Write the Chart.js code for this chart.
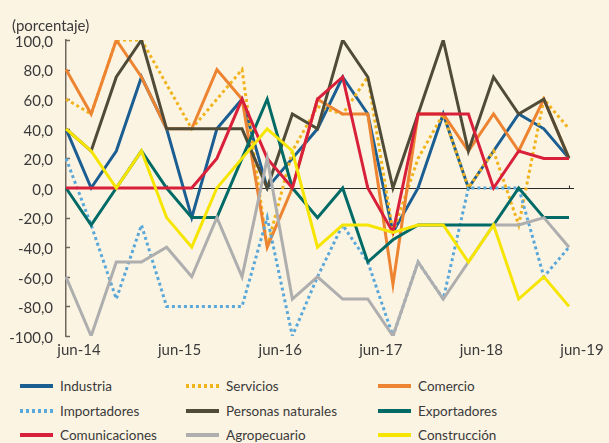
<!DOCTYPE html>
<html>
<head>
<meta charset="utf-8">
<script src="https://cdn.jsdelivr.net/npm/chart.js@4.4.1/dist/chart.umd.min.js"></script>
<style>
  body { margin: 0; background: #FCF4E3; }
  #wrap { position: relative; width: 609px; height: 443px; background: #FCF4E3; font-family: Lato, sans-serif; color: #3a3a3a; }
  #unit { position: absolute; left: 12px; top: 16px; font-size: 15px; line-height: 18px; }
  #chart { position: absolute; left: 0; top: 0; }
  .item { position: absolute; height: 18px; display: flex; align-items: center; font-size: 13.5px; white-space: nowrap; }
  .item span.mark { display: inline-block; width: 33px; height: 3.5px; margin-right: 7px; }
</style>
</head>
<body>
<div id="wrap">
  <canvas id="chart" width="609" height="365"></canvas>
  <div id="unit">(porcentaje)</div>
  <div id="legend"></div>
</div>
<script>
// quarterly, jun-14 .. jun-19
const quarters = ['jun-14', 'sep-14', 'dic-14', 'mar-15', 'jun-15', 'sep-15', 'dic-15', 'mar-16',
                  'jun-16', 'sep-16', 'dic-16', 'mar-17', 'jun-17', 'sep-17', 'dic-17', 'mar-18',
                  'jun-18', 'sep-18', 'dic-18', 'mar-19', 'jun-19'];

const industria      = [40, 0, 25, 75, 40, -20, 40, 60, 0, 20, 40, 75, 50, -30, 0, 50, 0, 25, 50, 40, 20];
const servicios      = [60, 50, 100, 100, 70, 40, 60, 80, -40, 25, 55, 50, 75, -30, 20, 50, 0, 25, -25, 60, 40];
const comercio       = [80, 50, 100, 75, 40, 40, 80, 60, -40, 0, 60, 50, 50, -65, 50, 50, 25, 50, 25, 60, 20];
const importadores   = [20, -25, -75, -25, -80, -80, -80, -80, -20, -100, -60, -25, -50, -100, -50, -75, 0, 0, 0, -60, -40];
const personas       = [40, 25, 75, 100, 40, 40, 40, 40, 0, 50, 40, 100, 75, 0, 50, 100, 25, 75, 50, 60, 20];
const exportadores   = [0, -25, 0, 25, 0, -20, -20, 20, 60, 0, -20, 0, -50, -35, -25, -25, -25, -25, 0, -20, -20];
const comunicaciones = [0, 0, 0, 0, 0, 0, 20, 60, 20, 0, 60, 75, 0, -30, 50, 50, 50, 0, 25, 20, 20];
const agropecuario   = [-60, -100, -50, -50, -40, -60, -20, -60, 20, -75, -60, -75, -75, -100, -50, -75, -50, -25, -25, -20, -40];
const construccion   = [40, 25, 0, 25, -20, -40, 0, 20, 40, 25, -40, -25, -25, -30, -25, -25, -50, -25, -75, -60, -80];

const yTicks = [100, 80, 60, 40, 20, 0, -20, -40, -60, -80, -100];

function line(label, data, color, dotted) {
    return {
        label, data,
        borderColor: color,
        backgroundColor: color,
        borderWidth: 3,
        borderDash: dotted ? [3, 3] : [],
        borderCapStyle: 'butt',
        borderJoinStyle: 'miter',
        pointRadius: 0,
        tension: 0,
        fill: false
    };
}

const datasets = [
    line('Industria', industria, '#1B5E92'),
    line('Servicios', servicios, '#F1B31C', true),
    line('Comercio', comercio, '#EC8431'),
    line('Importadores', importadores, '#5AA8D9', true),
    line('Personas naturales', personas, '#4F4B37'),
    line('Exportadores', exportadores, '#006B66'),
    line('Comunicaciones', comunicaciones, '#D8203B'),
    line('Agropecuario', agropecuario, '#AEAEAE'),
    line('Construcción', construccion, '#F5E500')
];
// last series on top
datasets.forEach((d, i) => d.order = datasets.length - 1 - i);

const axisColor = '#6F665E';

// zero line with small marks, inward ticks on the y axis
const axisMarks = {
    id: 'axisMarks',
    beforeDatasetsDraw(chart) {
        const { ctx, chartArea: a, scales: { x, y } } = chart;
        ctx.save();
        const y0 = Math.round(y.getPixelForValue(0)) + 0.5;
        ctx.strokeStyle = '#2a2a2a';
        ctx.lineWidth = 1;
        ctx.beginPath();
        ctx.moveTo(a.left, y0);
        ctx.lineTo(a.right + 5, y0);
        quarters.forEach((q, i) => {
            if (i % 4 === 0 && i > 0) {
                const px = Math.round(x.getPixelForValue(i)) + 0.5;
                ctx.moveTo(px, y0);
                ctx.lineTo(px, y0 - 3);
            }
        });
        ctx.stroke();

        ctx.strokeStyle = axisColor;
        ctx.lineWidth = 1.5;
        ctx.beginPath();
        yTicks.forEach(v => {
            const py = Math.round(y.getPixelForValue(v)) + 0.5;
            ctx.moveTo(a.left, py);
            ctx.lineTo(a.left + 4, py);
        });
        ctx.stroke();
        ctx.restore();
    }
};

const tickFont = { family: 'Lato', size: 15 };

new Chart(document.getElementById('chart'), {
    type: 'line',
    data: { labels: quarters, datasets },
    options: {
        responsive: false,
        animation: false,
        devicePixelRatio: 1,
        layout: { padding: { top: 40, right: 40, bottom: 1, left: 0 } },
        plugins: {
            legend: { display: false },
            tooltip: { enabled: false }
        },
        scales: {
            x: {
                offset: false,
                grid: { display: false, drawTicks: false },
                border: { display: false },
                ticks: {
                    autoSkip: false,
                    maxRotation: 0,
                    padding: 5,
                    labelOffset: 13,
                    color: '#3a3a3a',
                    font: tickFont,
                    callback: (v, i) => i % 4 === 0 ? quarters[i] : ''
                },
                afterFit: s => { s.height = 28; }
            },
            y: {
                min: -100,
                max: 100,
                grid: { display: false, drawTicks: false },
                border: { display: true, color: axisColor, width: 1.5 },
                ticks: {
                    stepSize: 20,
                    padding: 13,
                    labelOffset: 2,
                    color: '#3a3a3a',
                    font: tickFont,
                    callback: v => v.toFixed(1).replace('.', ',')
                },
                afterFit: s => { s.width = 66; }
            }
        }
    },
    plugins: [axisMarks]
});

// legend, 3 columns
const legend = document.getElementById('legend');
const colX = [20, 186, 378];
const rowY = [386, 411, 435];
datasets.forEach((d, i) => {
    const item = document.createElement('div');
    item.className = 'item';
    item.style.left = colX[i % 3] + 'px';
    item.style.top = (rowY[Math.floor(i / 3)] - 9) + 'px';
    const mark = document.createElement('span');
    mark.className = 'mark';
    mark.style.background = d.borderDash.length
        ? `repeating-linear-gradient(to right, ${d.borderColor} 0 3px, transparent 3px 6px)`
        : d.borderColor;
    item.appendChild(mark);
    item.appendChild(document.createTextNode(d.label));
    legend.appendChild(item);
});
</script>
</body>
</html>
